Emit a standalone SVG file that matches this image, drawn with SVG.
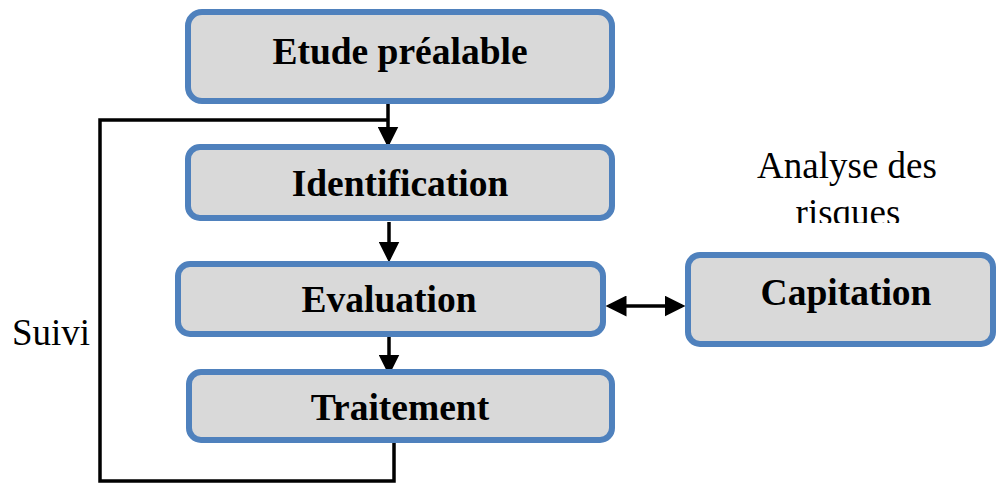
<svg xmlns="http://www.w3.org/2000/svg" width="996" height="483" viewBox="0 0 996 483">
  <style>
    .box { fill: #d9d9d9; stroke: #4f81bd; stroke-width: 6; }
    .lbl { font-family: "Liberation Serif", "Times New Roman", serif; font-weight: bold; font-size: 37.5px; fill: #000; text-anchor: middle; }
    .txt { font-family: "Liberation Serif", "Times New Roman", serif; font-size: 37px; fill: #000; }
    .ln { fill: none; stroke: #000; stroke-width: 3.5; }
  </style>
  <defs>
    <marker id="arr" markerWidth="6" markerHeight="6" refX="5" refY="3" orient="auto" markerUnits="strokeWidth">
      <path d="M0,0 L6,3 L0,6 z" fill="#000"/>
    </marker>
    <marker id="arrS" markerWidth="6" markerHeight="6" refX="1" refY="3" orient="auto" markerUnits="strokeWidth">
      <path d="M6,0 L0,3 L6,6 z" fill="#000"/>
    </marker>
    <clipPath id="clipRisk">
      <rect x="700" y="120" width="296" height="103"/>
    </clipPath>
  </defs>

  <!-- connectors -->
  <g id="connectors">
    <line class="ln" x1="388" y1="104" x2="388" y2="144" marker-end="url(#arr)"/>
    <polyline class="ln" points="388,120 100,120 100,481 394,481 394,443"/>
    <line class="ln" x1="389" y1="222" x2="389" y2="259" marker-end="url(#arr)"/>
    <line class="ln" x1="389" y1="337" x2="389" y2="372" marker-end="url(#arr)"/>
    <line class="ln" x1="609" y1="306" x2="682" y2="306" marker-start="url(#arrS)" marker-end="url(#arr)"/>
  </g>

  <g id="etude">
    <rect class="box" x="188" y="12" width="424" height="89" rx="14"/>
    <text class="lbl" x="400" y="64">Etude préalable</text>
  </g>

  <g id="identification">
    <rect class="box" x="188" y="147" width="424" height="71" rx="12"/>
    <text class="lbl" x="400" y="196">Identification</text>
  </g>

  <g id="evaluation">
    <rect class="box" x="178" y="264" width="425" height="70" rx="12"/>
    <text class="lbl" x="389" y="312">Evaluation</text>
  </g>

  <g id="traitement">
    <rect class="box" x="189" y="372" width="423" height="68" rx="12"/>
    <text class="lbl" x="400" y="420">Traitement</text>
  </g>

  <g id="capitation">
    <rect class="box" x="688" y="255" width="305" height="89" rx="12"/>
    <text class="lbl" x="846" y="305">Capitation</text>
  </g>

  <g id="analyse">
    <text class="txt" x="847" y="178" text-anchor="middle">Analyse des</text>
    <text class="txt" x="848" y="225" text-anchor="middle" clip-path="url(#clipRisk)">risques</text>
  </g>

  <g id="suivi">
    <text class="txt" x="12" y="345">Suivi</text>
  </g>
</svg>
